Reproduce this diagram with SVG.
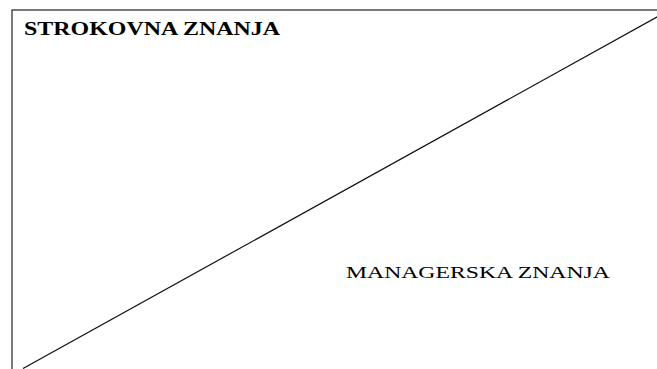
<svg xmlns="http://www.w3.org/2000/svg" width="657" height="369" viewBox="0 0 657 369">
<style>
.frame{fill:none;stroke:#222;stroke-width:1.2}
.diag{stroke:#111;stroke-width:1.2}
.lbl{font-family:"Liberation Serif","Times New Roman",serif;fill:#000}
</style>
<rect width="657" height="369" fill="#fff"/>
<g id="frame"><rect class="frame" x="12" y="10" width="660" height="380"/></g>
<g id="connectors"><line class="diag" x1="23" y1="368.5" x2="658" y2="16.5"/></g>
<g id="strokovna"><text class="lbl" transform="translate(24 35) scale(1.26 1)" font-size="19" font-weight="bold">STROKOVNA ZNANJA</text></g>
<g id="managerska"><text class="lbl" transform="translate(346 278) scale(1.37 1)" font-size="17.3">MANAGERSKA ZNANJA</text></g>
</svg>
